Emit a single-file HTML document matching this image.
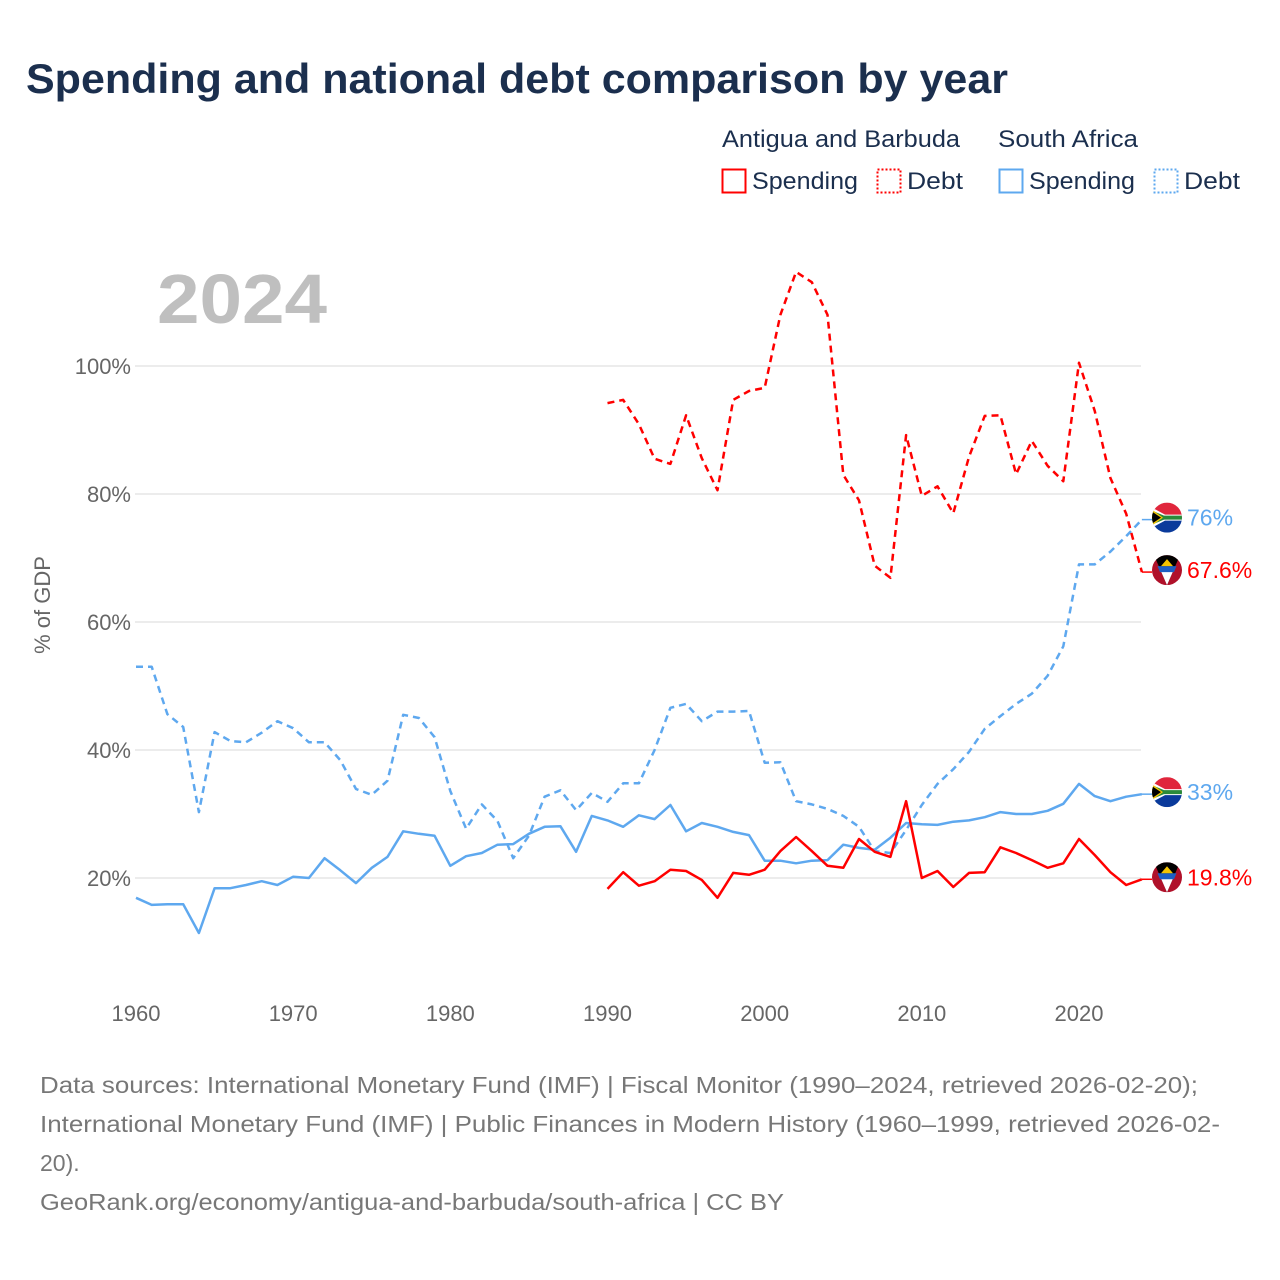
<!DOCTYPE html>
<html><head><meta charset="utf-8"><style>
html,body{margin:0;padding:0;background:#fff;}
svg{display:block;font-family:"Liberation Sans",sans-serif;}
</style></head><body>
<svg id="chart" width="1280" height="1280" viewBox="0 0 1280 1280" xmlns="http://www.w3.org/2000/svg">
<rect width="1280" height="1280" fill="#fff"/>
<text x="26" y="93" font-size="42" font-weight="bold" fill="#1b2f4e" textLength="982" lengthAdjust="spacingAndGlyphs">Spending and national debt comparison by year</text>
<g font-size="24" fill="#1b2f4e">
<text x="722" y="147" textLength="238" lengthAdjust="spacingAndGlyphs">Antigua and Barbuda</text>
<text x="998" y="147" textLength="140" lengthAdjust="spacingAndGlyphs">South Africa</text>
<g><rect x="722.5" y="169.5" width="23" height="23" fill="none" stroke="#ff0000" stroke-width="2"/><text x="752" y="189" textLength="106" lengthAdjust="spacingAndGlyphs">Spending</text></g>
<g><rect x="877.5" y="169.5" width="23" height="23" fill="none" stroke="#ff0000" stroke-width="2" stroke-dasharray="2,2"/><text x="907" y="189" textLength="56" lengthAdjust="spacingAndGlyphs">Debt</text></g>
<g><rect x="999.5" y="169.5" width="23" height="23" fill="none" stroke="#5ea8ef" stroke-width="2"/><text x="1029" y="189" textLength="106" lengthAdjust="spacingAndGlyphs">Spending</text></g>
<g><rect x="1154.5" y="169.5" width="23" height="23" fill="none" stroke="#5ea8ef" stroke-width="2" stroke-dasharray="2,2"/><text x="1184" y="189" textLength="56" lengthAdjust="spacingAndGlyphs">Debt</text></g>
</g>
<text x="157" y="323" font-size="70" font-weight="bold" fill="#bfbfbf" textLength="170" lengthAdjust="spacingAndGlyphs">2024</text>
<text transform="translate(50,605) rotate(-90)" text-anchor="middle" font-size="22" fill="#666">% of GDP</text>
<g id="grid"></g><g id="series"></g><g id="ends"></g>
<g font-size="23" fill="#777">
<text x="40" y="1093" textLength="1158" lengthAdjust="spacingAndGlyphs">Data sources: International Monetary Fund (IMF) | Fiscal Monitor (1990–2024, retrieved 2026-02-20);</text>
<text x="40" y="1132" textLength="1180" lengthAdjust="spacingAndGlyphs">International Monetary Fund (IMF) | Public Finances in Modern History (1960–1999, retrieved 2026-02-</text>
<text x="40" y="1171">20).</text>
<text x="40" y="1210" textLength="744" lengthAdjust="spacingAndGlyphs">GeoRank.org/economy/antigua-and-barbuda/south-africa | CC BY</text>
</g>
</svg>
<script>
const yTicks=[20,40,60,80,100];
const xTicks=[1960,1970,1980,1990,2000,2010,2020];
const saYears0=1960;
const saDebt=[53,53,45.6,43.6,30.3,42.8,41.4,41.2,42.7,44.5,43.4,41.2,41.2,38.4,33.9,33,35.2,45.5,45,42,33.6,27.7,31.5,28.9,23.1,26.6,32.7,33.7,30.6,33.3,31.9,34.8,34.8,40,46.6,47.2,44.5,46,46,46.1,38,38.1,32,31.5,30.8,29.7,28,24.2,23.9,27.5,31.4,34.7,37,39.7,43.3,45.3,47.2,48.8,51.6,56.2,69,69,71,73.4,76];
const saSpending=[16.9,15.8,15.9,15.9,11.4,18.4,18.4,18.9,19.5,18.9,20.2,20,23.1,21.2,19.2,21.6,23.3,27.3,26.9,26.6,21.9,23.4,23.9,25.2,25.3,26.9,28,28.1,24.1,29.7,29,28,29.8,29.2,31.4,27.3,28.6,28,27.2,26.7,22.7,22.7,22.3,22.7,22.8,25.2,24.7,24.4,26.3,28.6,28.4,28.3,28.8,29,29.5,30.3,30,30,30.5,31.6,34.7,32.8,32,32.7,33.1];
const abYears0=1990;
const abSpending=[18.3,20.9,18.8,19.5,21.3,21.1,19.7,16.9,20.8,20.5,21.3,24.2,26.4,24.2,21.9,21.6,26.1,24.1,23.3,32,20,21.1,18.6,20.8,20.9,24.8,23.9,22.8,21.6,22.3,26.1,23.6,20.9,18.9,19.8];
const abDebt=[94.2,94.7,90.9,85.5,84.7,92.3,85.6,80.6,94.7,96.1,96.6,108,114.7,113.1,108,83,79,68.8,66.9,89.2,79.7,81.2,77,85.8,92.2,92.3,83.1,88.3,84.4,82,100.5,93,82.5,76.9,67.8];
const endLabels=["76%","67.6%","33%","19.8%"];

const NS="http://www.w3.org/2000/svg";
const X=y=>136+(y-1960)*(1079-136)/60;
const Y=v=>1006-v*6.4;
function mk(t,a,p){const e=document.createElementNS(NS,t);for(const k in a)e.setAttribute(k,a[k]);p.appendChild(e);return e;}
const grid=document.getElementById('grid');
yTicks.forEach(v=>{
  const l=mk('line',{x1:135,x2:1141,y1:Y(v),y2:Y(v),stroke:'#e6e6e6','stroke-width':1.5},grid);
  
  
  const t=mk('text',{x:131,y:Y(v)+8,'text-anchor':'end','font-size':22,fill:'#666'},grid);
  t.textContent=v+'%';
  
  
});
xTicks.forEach(yr=>{
  const t=mk('text',{x:X(yr),y:1021,'text-anchor':'middle','font-size':22,fill:'#666'},grid);
  t.textContent=yr;
  
  
});
const ser=document.getElementById('series');
function line(arr,y0,color,dash,name){
  const d=arr.map((v,i)=>(i?'L':'M')+X(y0+i).toFixed(1)+','+Y(v).toFixed(1)).join('');
  const p=mk('path',{d:d,fill:'none',stroke:color,'stroke-width':2.5,'stroke-linejoin':'round'},ser);
  if(dash)p.setAttribute('stroke-dasharray','7,5');
  
  
}
line(saDebt,saYears0,'#5ea8ef',true,'sa-debt-line');
line(saSpending,saYears0,'#5ea8ef',false,'sa-spending-line');
line(abDebt,abYears0,'#ff0000',true,'ab-debt-line');
line(abSpending,abYears0,'#ff0000',false,'ab-spending-line');
const ends=document.getElementById('ends');
function saFlag(cx,cy,g){
  const cp='clipSA'+Math.round(cy);
  const c=mk('clipPath',{id:cp},g);mk('circle',{cx:cx,cy:cy,r:15},c);
  const f=mk('g',{'clip-path':'url(#'+cp+')'},g);
  mk('rect',{x:cx-15,y:cy-15,width:30,height:15,fill:'#e0263c'},f);
  mk('rect',{x:cx-15,y:cy,width:30,height:15,fill:'#0a3a9b'},f);
  mk('path',{d:`M${cx-15},${cy-10}L${cx-2},${cy-3}H${cx+15}V${cy+3}H${cx-2}L${cx-15},${cy+10}Z`,fill:'#fff'},f);
  mk('path',{d:`M${cx-15},${cy-7}L${cx-3},${cy-2}H${cx+15}V${cy+2}H${cx-3}L${cx-15},${cy+7}Z`,fill:'#2a8a3a'},f);
  mk('path',{d:`M${cx-15},${cy-8}L${cx-4},${cy}L${cx-15},${cy+8}Z`,fill:'#f5c400'},f);
  mk('path',{d:`M${cx-15},${cy-6}L${cx-6},${cy}L${cx-15},${cy+6}Z`,fill:'#000'},f);
}
function abFlag(cx,cy,g){
  const cp='clipAB'+Math.round(cy);
  const c=mk('clipPath',{id:cp},g);mk('circle',{cx:cx,cy:cy,r:15},c);
  const f=mk('g',{'clip-path':'url(#'+cp+')'},g);
  mk('rect',{x:cx-15,y:cy-15,width:30,height:30,fill:'#b0112a'},f);
  mk('path',{d:`M${cx-13},${cy-15}H${cx+13}L${cx},${cy+15}Z`,fill:'#000'},f);
  mk('path',{d:`M${cx-7},${cy-1}H${cx+7}L${cx},${cy+15}Z`,fill:'#fff'},f);
  mk('path',{d:`M${cx-9.5},${cy-4}H${cx+9.5}L${cx+7},${cy+2}H${cx-7}Z`,fill:'#1d5fc4'},f);
  mk('path',{d:`M${cx-6},${cy-4}L${cx},${cy-11}L${cx+6},${cy-4}Z`,fill:'#f5c400'},f);
}
const endVals=[saDebt[saDebt.length-1],abDebt[abDebt.length-1],saSpending[saSpending.length-1],abSpending[abSpending.length-1]];
const endKinds=['sa','ab','sa','ab'];
endVals.forEach((v,i)=>{
  const g=mk('g',{},ends);
  
  
  const cy=Y(v)-2;
  const col=endKinds[i]==='sa'?'#5ea8ef':'#ff0000';
  mk('line',{x1:X(2024),x2:1152,y1:Y(v),y2:Y(v),stroke:col,'stroke-width':1.5},g);
  if(endKinds[i]==='sa')saFlag(1167,cy,g);else abFlag(1167,cy,g);
  const t=mk('text',{x:1187,y:cy+8,'font-size':23,fill:col},g);
  t.textContent=endLabels[i];
});
</script>
</body></html>
